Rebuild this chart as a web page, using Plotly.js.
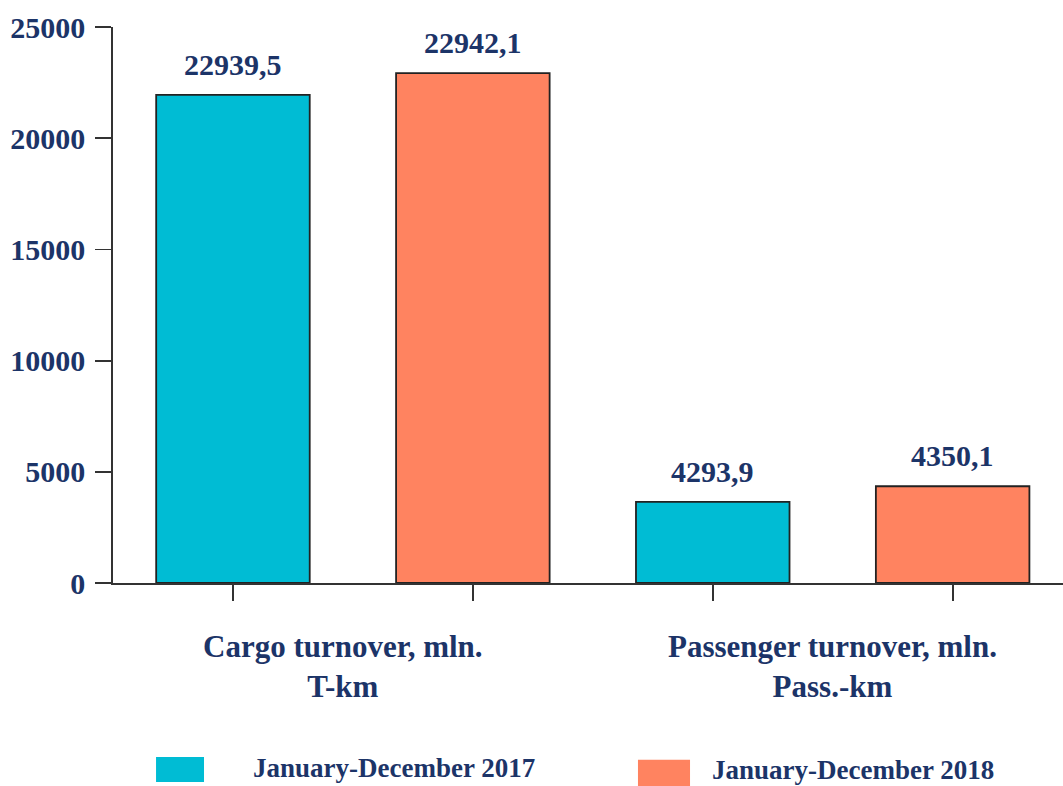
<!DOCTYPE html>
<html>
<head>
<meta charset="utf-8">
<script src="https://cdn.plot.ly/plotly-3.0.1.min.js"></script>
<style>html,body{margin:0;padding:0;background:#fff;}#chart{width:1063px;height:786px;}</style>
</head>
<body>
<div id="chart"></div>
<script>
// ---- data ----
var groups = ["Cargo turnover, mln.<br>T-km", "Passenger turnover, mln.<br>Pass.-km"];
var seriesNames = ["January-December 2017", "January-December 2018"];
var heights2017 = [21950, 3650];   // bar heights as drawn
var heights2018 = [22930, 4350];
var labels2017 = ["22939,5", "4293,9"]; // printed value labels
var labels2018 = ["22942,1", "4350,1"];
var yTicks = [0, 5000, 10000, 15000, 20000, 25000];

// ---- style ----
var navy = "#1c3468";
var colors = ["#00bcd4", "#ff8360"];
var fontFam = "Liberation Serif, Times New Roman, serif";

var heights = [heights2017, heights2018];
var labels = [labels2017, labels2018];
function key(g, s) { return g + " | " + s; }
var catOrder = [];
groups.forEach(function (g) { seriesNames.forEach(function (s) { catOrder.push(key(g, s)); }); });

var traces = seriesNames.map(function (s, si) {
  return {
    type: "bar",
    name: s,
    x: groups.map(function (g) { return key(g, s); }),
    y: heights[si],
    width: 0.64,
    marker: { color: colors[si], line: { color: "#222", width: 1.8 } },
    hoverinfo: "skip",
    showlegend: false
  };
});

var annotations = [];
seriesNames.forEach(function (s, si) {
  groups.forEach(function (g, gi) {
    annotations.push({
      x: key(g, s), y: heights[si][gi], xref: "x", yref: "y",
      text: "<b>" + labels[si][gi] + "</b>", showarrow: false,
      yanchor: "bottom", yshift: 12,
      font: { family: fontFam, size: 30, color: navy }
    });
  });
});
groups.forEach(function (g, gi) {
  annotations.push({
    x: gi * seriesNames.length + (seriesNames.length - 1) / 2, y: -0.08,
    xref: "x", yref: "paper", text: "<b>" + g + "</b>", showarrow: false,
    yanchor: "top", xshift: gi === 0 ? -10 : 0,
    font: { family: fontFam, size: 31, color: navy }
  });
});

// custom legend (large swatches)
var shapes = [];
var legendPos = [
  { sx0: 0.0453, sx1: 0.0958, sy0: -0.313, sy1: -0.358, tx: 0.1453, ty: -0.333 },
  { sx0: 0.5526, sx1: 0.6074, sy0: -0.318, sy1: -0.365, tx: 0.628, ty: -0.336 }
];
seriesNames.forEach(function (s, si) {
  var p = legendPos[si];
  shapes.push({ type: "rect", xref: "paper", yref: "paper", x0: p.sx0, x1: p.sx1, y0: p.sy0, y1: p.sy1,
    fillcolor: colors[si], line: { width: 0 } });
  annotations.push({ x: p.tx, y: p.ty, xref: "paper", yref: "paper", xanchor: "left", yanchor: "middle",
    text: "<b>" + s + "</b>", showarrow: false, font: { family: fontFam, size: 27, color: navy } });
});

var layout = {
  width: 1063, height: 786,
  margin: { l: 113, r: 0, t: 27, b: 203 },
  paper_bgcolor: "#fff", plot_bgcolor: "#fff",
  barmode: "overlay",
  showlegend: false,
  xaxis: {
    type: "category", categoryorder: "array", categoryarray: catOrder,
    range: [-0.5, 3.46], showgrid: false, zeroline: false,
    showline: true, linecolor: "#333", linewidth: 1.8,
    ticks: "outside", ticklen: 16, tickwidth: 1.8, tickcolor: "#333",
    showticklabels: false, fixedrange: true
  },
  yaxis: {
    range: [0, 25000], tickvals: yTicks, ticktext: yTicks.map(String),
    showgrid: false, zeroline: false,
    showline: true, linecolor: "#333", linewidth: 1.8,
    ticks: "outside", ticklen: 16, tickwidth: 1.8, tickcolor: "#333",
    ticklabelstandoff: 4,
    tickfont: { family: fontFam, size: 30, color: navy, weight: "bold" },
    fixedrange: true
  },
  annotations: annotations,
  shapes: shapes
};

Plotly.newPlot("chart", traces, layout, { displayModeBar: false, staticPlot: true });
</script>
</body>
</html>
